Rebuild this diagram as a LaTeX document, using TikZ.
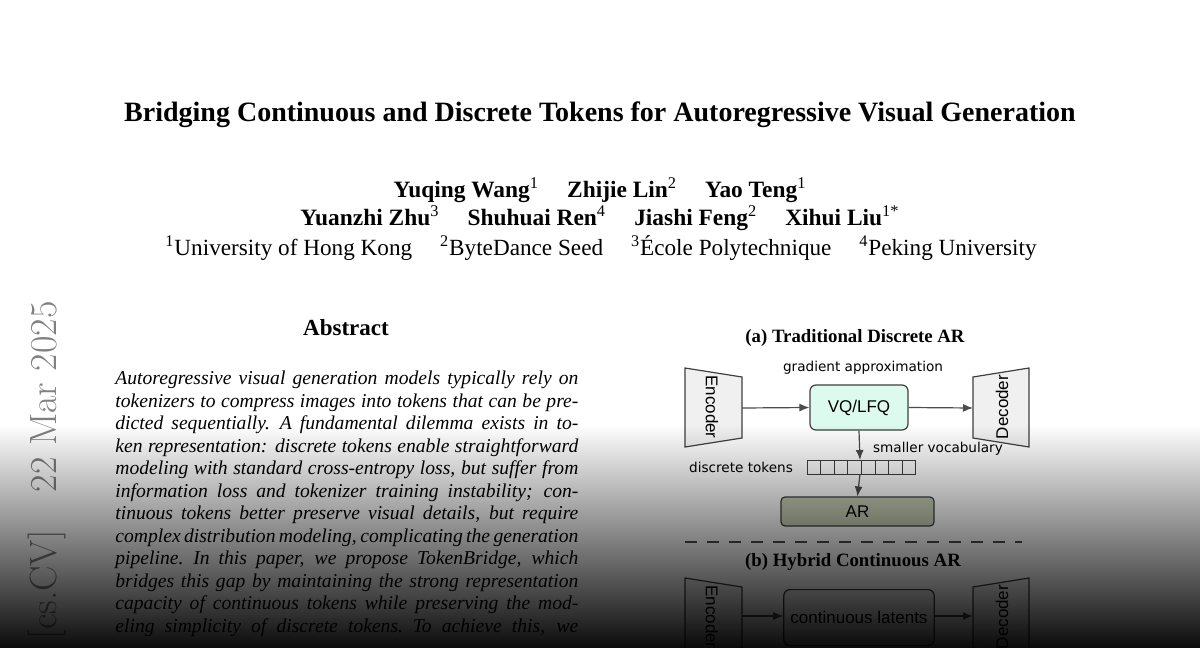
\documentclass[tikz,border=0pt]{standalone}
\usepackage{fontspec}
\setmainfont{Liberation Serif}
\newfontfamily\hsans{Liberation Sans}
\newfontfamily\csans{DejaVu Sans}
\newfontfamily\lmr{Latin Modern Roman}
\usetikzlibrary{fadings,arrows.meta}
\tikzfading[name=fd, top color=transparent!100, middle color=transparent!50, bottom color=transparent!4]
\newcommand{\absln}[1]{{\fontsize{9.8}{11}\selectfont\itshape\spaceskip=0.25em plus 1em minus 0.12em\relax\makebox[231.5pt][s]{#1}}}
\tikzset{
  lbl/.style={inner sep=0pt},
  absl/.style={inner sep=0pt, anchor=west},
  blk/.style={draw=black!75, line width=0.6pt, rounded corners=3pt},
  trap/.style={draw=black!75, fill=black!6, line width=0.6pt},
  arr/.style={-{Latex[length=5pt,width=4pt]}, draw=black!70, line width=0.6pt},
  dsc/.style={font=\csans\fontsize{6.8}{7}\selectfont, inner sep=0pt},
  sf/.style={font=\hsans\fontsize{7.5}{8}\selectfont, inner sep=0pt}
}
\begin{document}
\begin{tikzpicture}[x=0.5pt,y=-0.5pt]
\useasboundingbox (0,0) rectangle (1200,648);
\fill[white] (0,0) rectangle (1200,648);
% title block
\node[lbl] (title) at (600,115) {\fontsize{14}{16}\selectfont\bfseries Bridging Continuous and Discrete Tokens for Autoregressive Visual Generation};
\node[lbl] (auth1) at (600,190) {\fontsize{11.7}{13}\selectfont\bfseries Yuqing Wang\textsuperscript{\mdseries 1}\hspace{1.2em}Zhijie Lin\textsuperscript{\mdseries 2}\hspace{1.2em}Yao Teng\textsuperscript{\mdseries 1}};
\node[lbl] (auth2) at (600,218) {\fontsize{11.7}{13}\selectfont\bfseries Yuanzhi Zhu\textsuperscript{\mdseries 3}\hspace{1.2em}Shuhuai Ren\textsuperscript{\mdseries 4}\hspace{1.2em}Jiashi Feng\textsuperscript{\mdseries 2}\hspace{1.2em}Xihui Liu\textsuperscript{\mdseries 1*}};
\node[lbl] (aff) at (601,248) {\fontsize{11.6}{13}\selectfont \textsuperscript{1}University of Hong Kong\hspace{1.2em}\textsuperscript{2}ByteDance Seed\hspace{1.2em}\textsuperscript{3}École Polytechnique\hspace{1.2em}\textsuperscript{4}Peking University};
% arXiv stamp
\node[lbl, anchor=east, rotate=90, text=black!50] (arx) at (47,301) {\lmr\fontsize{19}{20}\selectfont arXiv:2503.16430v2\hspace{1em}[cs.CV]\hspace{1em}22 Mar 2025};
% abstract
\node[lbl] (abs) at (346,328) {\fontsize{11.5}{13}\selectfont\bfseries Abstract};
\node[absl] (l1) at (115,380) {\absln{Autoregressive visual generation models typically rely on}};
\node[absl] (l2) at (115,402.5) {\absln{tokenizers to compress images into tokens that can be pre-}};
\node[absl] (l3) at (115,425) {\absln{dicted sequentially.\hspace{0.5em}A fundamental dilemma exists in to-}};
\node[absl] (l4) at (115,447.5) {\absln{ken representation: discrete tokens enable straightforward}};
\node[absl] (l5) at (115,470) {\absln{modeling with standard cross-entropy loss, but suffer from}};
\node[absl] (l6) at (115,492.5) {\absln{information loss and tokenizer training instability; con-}};
\node[absl] (l7) at (115,515) {\absln{tinuous tokens better preserve visual details, but require}};
\node[absl] (l8) at (115,537.5) {\absln{complex distribution modeling, complicating the generation}};
\node[absl] (l9) at (115,560) {\absln{pipeline.\hspace{0.5em}In this paper, we propose TokenBridge, which}};
\node[absl] (l10) at (115,582.5) {\absln{bridges this gap by maintaining the strong representation}};
\node[absl] (l11) at (115,605) {\absln{capacity of continuous tokens while preserving the mod-}};
\node[absl] (l12) at (115,627.5) {\absln{eling simplicity of discrete tokens.\hspace{0.5em}To achieve this, we}};
% diagram (a)
\node[lbl] (ta) at (855,338) {\fontsize{9.4}{10}\selectfont\bfseries (a) Traditional Discrete AR};
\draw[trap] (685,368) -- (742,377) -- (742,438) -- (685,447) -- cycle;
\node[sf, rotate=-90] (enc) at (712,407) {\fontsize{8.5}{9}\selectfont Encoder};
\draw[trap] (973,377) -- (1029,368) -- (1029,447) -- (973,438) -- cycle;
\node[sf, rotate=90] (dec) at (1002,407) {\fontsize{8.5}{9}\selectfont Decoder};
\coordinate (encR) at (742,408);
\coordinate (decL) at (973,408);
\node[blk, fill={rgb,255:red,220;green,250;blue,238}, minimum width=49pt, minimum height=22.5pt] (vq) at (859,407.5) {\hsans\fontsize{8.5}{9}\selectfont VQ/LFQ};
\node[dsc] (grad) at (863,368) {gradient approximation};
\draw[arr] (encR) -- (vq.west);
\draw[arr] (vq.east) -- (decL);
% tokens
\foreach \i in {0,...,7} {\draw[black!75, line width=0.5pt] (807+\i*13.6,460) rectangle ++(13.6,14);}
\coordinate (tokT) at (860,460);
\coordinate (tokB) at (860,474);
\node[dsc] (sv) at (938,449) {smaller vocabulary};
\node[dsc] (dt) at (741,467) {discrete tokens};
\draw[arr] (vq.south) -- (tokT);
\node[blk, fill={rgb,255:red,200;green,208;blue,184}, rounded corners=2pt, minimum width=76.5pt, minimum height=14.5pt] (ar) at (857.5,511.5) {\hsans\fontsize{8.5}{9}\selectfont AR};
\draw[arr] (tokB) -- (ar.north);
\draw[dashed, dash pattern=on 6pt off 5pt, black!70, line width=0.6pt] (685,542) -- (1022,542);
% diagram (b)
\node[lbl] (tb) at (853,562) {\fontsize{9.4}{10}\selectfont\bfseries (b) Hybrid Continuous AR};
\draw[trap] (685,578) -- (742,587) -- (742,648) -- (685,657) -- cycle;
\node[sf, rotate=-90] (enc2) at (712,617) {\fontsize{8.5}{9}\selectfont Encoder};
\draw[trap] (973,587) -- (1029,578) -- (1029,657) -- (973,648) -- cycle;
\node[sf, rotate=90] (dec2) at (1002,617) {\fontsize{8.5}{9}\selectfont Decoder};
\coordinate (encR2) at (742,616);
\coordinate (decL2) at (973,616);
\node[blk, fill=black!6, minimum width=75pt, minimum height=28pt, anchor=north] (cl) at (859,589) {\hsans\fontsize{8.5}{9}\selectfont continuous latents};
\draw[arr] (encR2) -- (cl.west |- encR2);
\draw[arr] (cl.east |- decL2) -- (decL2);
% dark overlay
\fill[black, path fading=fd] (0,425) rectangle (1200,648);
\end{tikzpicture}
\end{document}
